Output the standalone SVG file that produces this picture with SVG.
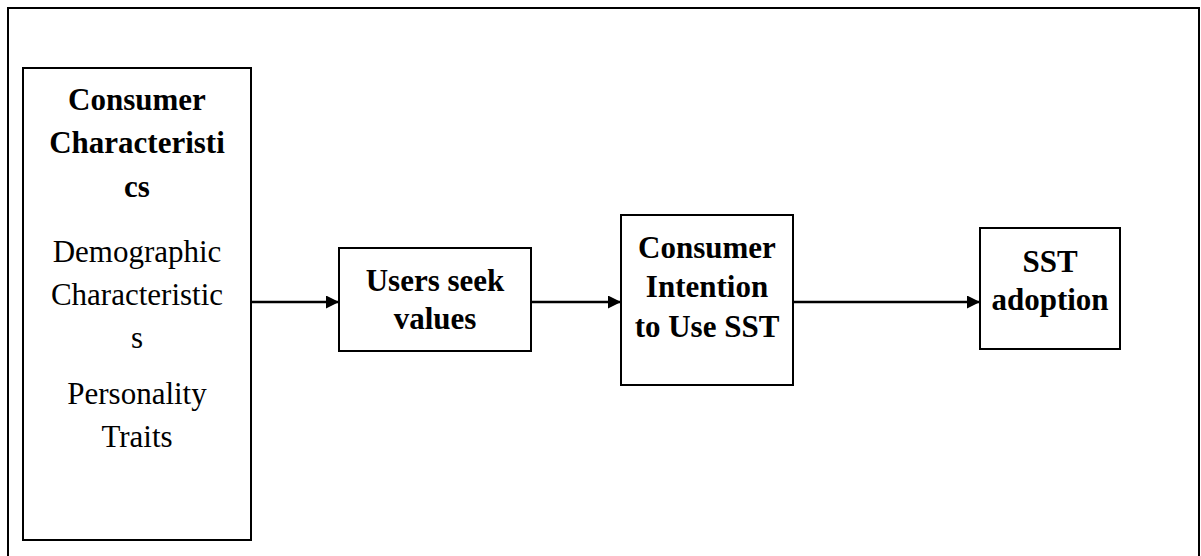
<svg xmlns="http://www.w3.org/2000/svg" width="1201" height="556" viewBox="0 0 1201 556">
  <style>
    .box { fill: #fff; stroke: #000; stroke-width: 2; }
    .frame { fill: none; stroke: #000; stroke-width: 2; }
    .t { font-family: "Liberation Serif", "Times New Roman", serif; font-size: 31px; text-anchor: middle; fill: #000; }
    .b { font-weight: bold; }
    .edge { stroke: #000; stroke-width: 2.5; fill: none; marker-end: url(#arrow); }
  </style>
  <defs>
    <marker id="arrow" viewBox="0 0 10 10" refX="10" refY="5" markerWidth="15" markerHeight="13" markerUnits="userSpaceOnUse" orient="auto">
      <path d="M0,0 L10,5 L0,10 Z" fill="#000"/>
    </marker>
  </defs>

  <rect width="1201" height="556" fill="#fff"/>
  <path class="frame" d="M8,556 V8 H1199 V556"/>

  <g id="consumer-characteristics">
    <rect class="box" x="23" y="68" width="228" height="472"/>
    <text class="t b" x="137" y="110">Consumer</text>
    <text class="t b" x="137" y="153">Characteristi</text>
    <text class="t b" x="137" y="197">cs</text>
    <text class="t" x="137" y="262">Demographic</text>
    <text class="t" x="137" y="305">Characteristic</text>
    <text class="t" x="137" y="348">s</text>
    <text class="t" x="137" y="404">Personality</text>
    <text class="t" x="137" y="447">Traits</text>
  </g>

  <g id="users-seek-values">
    <rect class="box" x="339" y="248" width="192" height="103"/>
    <text class="t b" x="435" y="291">Users seek</text>
    <text class="t b" x="435" y="329">values</text>
  </g>

  <g id="consumer-intention">
    <rect class="box" x="621" y="215" width="172" height="170"/>
    <text class="t b" x="707" y="258">Consumer</text>
    <text class="t b" x="707" y="297">Intention</text>
    <text class="t b" x="707" y="337">to Use SST</text>
  </g>

  <g id="sst-adoption">
    <rect class="box" x="980" y="228" width="140" height="121"/>
    <text class="t b" x="1050" y="272">SST</text>
    <text class="t b" x="1050" y="310">adoption</text>
  </g>

  <g id="connectors">
    <line class="edge" x1="251" y1="302" x2="339" y2="302"/>
    <line class="edge" x1="531" y1="302" x2="621" y2="302"/>
    <line class="edge" x1="793" y1="302" x2="980" y2="302"/>
  </g>
</svg>
